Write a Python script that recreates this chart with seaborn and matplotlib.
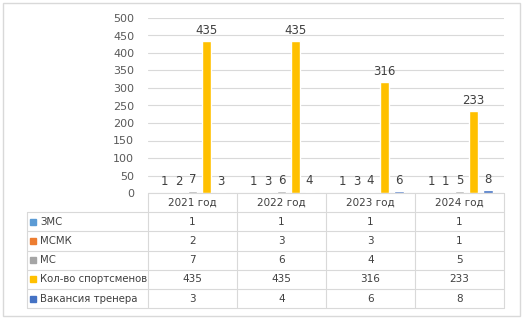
import pandas as pd
import matplotlib
import matplotlib.pyplot as plt
import seaborn as sns

matplotlib.use('agg')

# Данные
years = ['2021 год', '2022 год', '2023 год', '2024 год']
series = ['ЗМС', 'МСМК', 'МС', 'Кол-во спортсменов', 'Вакансия тренера']
zms = [1, 1, 1, 1]
msmk = [2, 3, 3, 1]
ms = [7, 6, 4, 5]
athletes = [435, 435, 316, 233]
vacancy = [3, 4, 6, 8]
colors = ['#5B9BD5', '#ED7D31', '#A5A5A5', '#FFC000', '#4472C4']

values = [zms, msmk, ms, athletes, vacancy]
df = pd.DataFrame([
    {'year': y, 'series': s, 'value': v}
    for s, vals in zip(series, values)
    for y, v in zip(years, vals)
])

sns.set_style('white')
plt.rcParams['font.family'] = ['DejaVu Sans']

W, H = 524, 319
fig = plt.figure(figsize=(W / 100, H / 100), dpi=100)
ax = fig.add_axes([148 / W, 1 - 193 / H, (504 - 148) / W, (193 - 18) / H])

sns.barplot(data=df, x='year', y='value', hue='series', hue_order=series,
            palette=colors, width=0.79, gap=0.3, ax=ax, legend=False,
            saturation=1)

text_col = '#404040'
grid_col = '#D9D9D9'
for cont in ax.containers:
    ax.bar_label(cont, padding=3, fontsize=8.5, color=text_col)

ax.set_xlim(-0.5, 3.5)
ax.set_ylim(0, 500)
ax.set_yticks(range(0, 501, 50))
ax.yaxis.grid(True, color=grid_col, linewidth=0.8)
ax.set_axisbelow(True)
ax.set_xticks([])
ax.set_xlabel('')
ax.set_ylabel('')
ax.tick_params(axis='y', length=0, labelsize=8, labelcolor='#595959', pad=10)
for sp in ax.spines.values():
    sp.set_visible(False)


def px2x(px):
    # пиксели -> единицы оси x
    return (px - 148) / 89 - 0.5


# Таблица данных под графиком
tr = ax.get_xaxis_transform()
rh = 19.2 / (193 - 18)
left = px2x(27)
nrows = len(series)
bottom = -rh * (nrows + 1)
lw = 0.8
ax.plot([-0.5, 3.5], [0, 0], color=grid_col, lw=lw, transform=tr, clip_on=False)
for i in range(1, nrows + 2):
    ax.plot([left, 3.5], [-rh * i, -rh * i], color=grid_col, lw=lw,
            transform=tr, clip_on=False)
for xv in [-0.5, 0.5, 1.5, 2.5, 3.5]:
    ax.plot([xv, xv], [0, bottom], color=grid_col, lw=lw, transform=tr, clip_on=False)
ax.plot([left, left], [-rh, bottom], color=grid_col, lw=lw, transform=tr, clip_on=False)

for j, y in enumerate(years):
    ax.text(j, -rh * 0.5, y, ha='center', va='center', fontsize=7.5,
            color=text_col, transform=tr)
for i, (s, vals, c) in enumerate(zip(series, values, colors)):
    yc = -rh * (i + 1.5)
    ax.plot([px2x(33)], [yc], marker='s', markersize=4.5, color=c,
            transform=tr, clip_on=False)
    ax.text(px2x(40), yc, s, ha='left', va='center', fontsize=7.3,
            color=text_col, transform=tr)
    for j, v in enumerate(vals):
        ax.text(j, yc, str(v), ha='center', va='center', fontsize=7.5,
                color=text_col, transform=tr)

# рамка диаграммы
fig.patches.append(plt.Rectangle((3 / W, 3 / H), (520 - 3) / W, (316 - 3) / H,
                                 transform=fig.transFigure, fill=False,
                                 edgecolor=grid_col, lw=1))

fig.savefig('out.png', dpi=100)
plt.close(fig)
